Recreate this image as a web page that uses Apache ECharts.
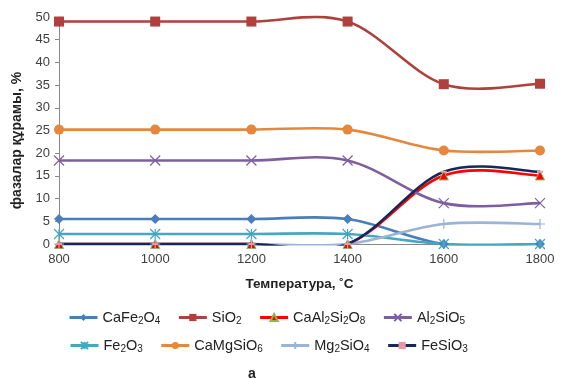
<!DOCTYPE html>
<html><head><meta charset="utf-8">
<script src="https://cdn.jsdelivr.net/npm/echarts@6/dist/echarts.min.js"></script>
<style>html,body{margin:0;padding:0;background:#fff}#c{width:563px;height:378px}</style>
</head><body><div id="c"></div>
<script>
const temperatures = [800, 1000, 1200, 1400, 1600, 1800];
const xTicks = [800, 1000, 1200, 1400, 1600, 1800];
const yTicks = [0, 5, 10, 15, 20, 25, 30, 35, 40, 45, 50];
const CaFe2O4 = [5.5, 5.5, 5.5, 5.5, 0, 0];
const SiO2 = [49, 49, 49, 49, 35.2, 35.3];
const CaAl2Si2O8 = [0, 0, 0, 0, 15.1, 15.1];
const Al2SiO5 = [18.4, 18.4, 18.4, 18.4, 9.0, 9.0];
const Fe2O3 = [2.2, 2.2, 2.2, 2.2, 0, 0];
const CaMgSiO6 = [25.2, 25.2, 25.2, 25.2, 20.6, 20.6];
const Mg2SiO4 = [0, 0, 0, 0, 4.4, 4.4];
const FeSiO3 = [0, 0, 0, 0, 15.9, 15.9];
const legendRow1 = ['CaFe2O4', 'SiO2', 'CaAl2Si2O8', 'Al2SiO5'];
const legendRow2 = ['Fe2O3', 'CaMgSiO6', 'Mg2SiO4', 'FeSiO3'];

const FONT = 'Liberation Sans, Arial, sans-serif';
const pairs = v => temperatures.map((t, i) => [t, v[i]]);
const subFmt = name => name.replace(/(\d+)/g, '{sub|$1}');
const X_PATH = 'path://M0,0L10,10M10,0L0,10';
const AST_PATH = 'path://M0,0L10,10M10,0L0,10M5,0L5,10';
const PLUS_PATH = 'path://M5,0L5,10M0,5L10,5';

const defs = [
  {name: 'CaFe2O4', data: CaFe2O4, color: '#4A7EBB', symbol: 'diamond', size: 10},
  {name: 'SiO2', data: SiO2, color: '#AE403D', symbol: 'rect', size: 10},
  {name: 'CaAl2Si2O8', data: CaAl2Si2O8, color: '#FF0000', symbol: 'triangle', size: 9, border: '#8DB35A', bw: 1},
  {name: 'Al2SiO5', data: Al2SiO5, color: '#7D5FA0', symbol: X_PATH, size: 10, border: '#7D5FA0', bw: 1.2},
  {name: 'Fe2O3', data: Fe2O3, color: '#45A7C0', symbol: AST_PATH, size: 10, border: '#45A7C0', bw: 1.2},
  {name: 'CaMgSiO6', data: CaMgSiO6, color: '#E5883E', symbol: 'circle', size: 10},
  {name: 'Mg2SiO4', data: Mg2SiO4, color: '#9AB3D6', symbol: PLUS_PATH, size: 10, border: '#9AB3D6', bw: 1.2},
  {name: 'FeSiO3', data: FeSiO3, color: '#14295A', symbol: 'rect', size: [6, 2], mcolor: '#E89AA0'}
];

// Excel-style smoothed line (Bezier with control points from neighbouring data points)
function smoothCurve(vals, color) {
  return function (params, api) {
    if (params.dataIndex !== 0) return null;
    const p = temperatures.map((t, i) => api.coord([t, vals[i]]));
    const n = p.length, children = [];
    for (let i = 0; i < n - 1; i++) {
      const a = p[i], b = p[i + 1];
      const prev = p[Math.max(i - 1, 0)], next = p[Math.min(i + 2, n - 1)];
      children.push({
        type: 'bezierCurve',
        shape: {
          x1: a[0], y1: a[1], x2: b[0], y2: b[1],
          cpx1: a[0] + (b[0] - prev[0]) / 6, cpy1: a[1] + (b[1] - prev[1]) / 6,
          cpx2: b[0] - (next[0] - a[0]) / 6, cpy2: b[1] - (next[1] - a[1]) / 6
        },
        style: {stroke: color, lineWidth: 2.6, fill: null}
      });
    }
    return {type: 'group', children};
  };
}

const series = [];
defs.forEach((d, k) => {
  series.push({
    name: 'curve_' + d.name, type: 'custom', data: pairs(d.data),
    encode: {x: 0, y: 1}, renderItem: smoothCurve(d.data, d.color),
    clip: true, lineStyle: {width: 3},
    z: 1 + k * 0.01, silent: true
  });
});
defs.forEach((d, k) => {
  series.push({
    name: d.name, type: 'line', data: pairs(d.data), smooth: false,
    symbol: d.symbol, symbolSize: d.size,
    lineStyle: {color: d.color, width: 2.5, opacity: 0},
    itemStyle: Object.assign({color: d.mcolor || d.color}, d.border ? {borderColor: d.border, borderWidth: d.bw} : {}),
    z: 3 + k * 0.01
  });
});

const legendItems = names => names.map(n => {
  const d = defs.find(x => x.name === n);
  return {name: n, lineStyle: {color: d.color, width: 3, opacity: 1}};
});
const legendCommon = {
  itemWidth: 28, itemHeight: 9, itemGap: 17,
  textStyle: {fontFamily: FONT, fontSize: 14.5, color: '#222',
    rich: {sub: {fontSize: 10, verticalAlign: 'bottom', padding: [7, 0, 0, 0], fontFamily: FONT, color: '#222'}}},
  formatter: subFmt
};

const chart = echarts.init(document.getElementById('c'), null, {renderer: 'canvas'});
chart.setOption({
  animation: false,
  backgroundColor: '#fff',
  grid: {left: 59, right: 23, top: 17, bottom: 134, containLabel: false},
  xAxis: {
    type: 'value', min: xTicks[0], max: xTicks[xTicks.length - 1], interval: 200,
    name: 'Температура, ˚С', nameLocation: 'middle', nameGap: 33,
    nameTextStyle: {fontFamily: FONT, fontWeight: 'bold', fontSize: 13.5, color: '#222'},
    axisLine: {lineStyle: {color: '#888', width: 1}},
    axisTick: {show: false},
    splitLine: {show: false},
    axisLabel: {fontFamily: FONT, fontSize: 13, color: '#404040', margin: 9, formatter: v => String(v)}
  },
  yAxis: {
    type: 'value', min: yTicks[0], max: yTicks[yTicks.length - 1], interval: 5,
    name: 'фазалар құрамы, %', nameLocation: 'middle', nameGap: 34, nameRotate: 90,
    nameTextStyle: {fontFamily: FONT, fontWeight: 'bold', fontSize: 14, color: '#222', padding: [0, 20, 0, 0]},
    axisLine: {show: true, lineStyle: {color: '#888', width: 1}},
    axisTick: {show: true, length: 4, lineStyle: {color: '#888'}},
    splitLine: {show: false},
    axisLabel: {fontFamily: FONT, fontSize: 13, color: '#404040', margin: 9}
  },
  legend: [
    Object.assign({data: legendItems(legendRow1), top: 305, left: 63}, legendCommon),
    Object.assign({data: legendItems(legendRow2), top: 333, left: 64}, legendCommon)
  ],
  title: {text: 'а', left: 243, top: 362, textStyle: {fontFamily: FONT, fontWeight: 'bold', fontSize: 14, color: '#222'}},
  series
});
</script></body></html>
